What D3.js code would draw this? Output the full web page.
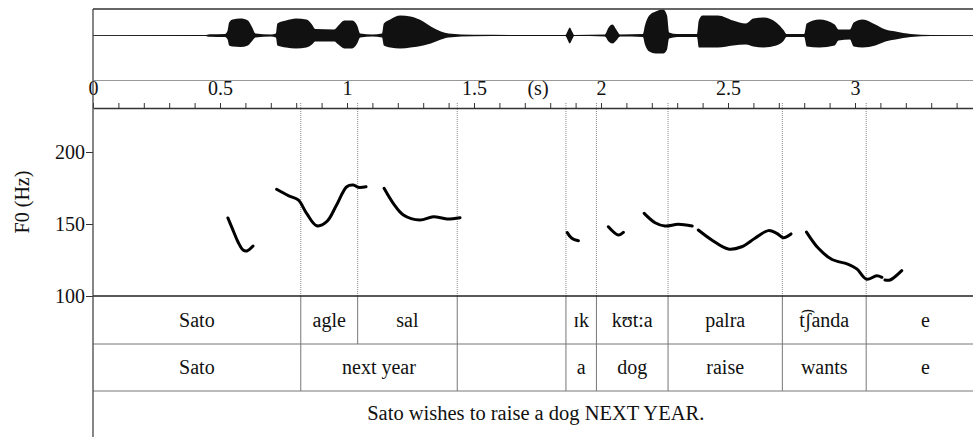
<!DOCTYPE html>
<html>
<head>
<meta charset="utf-8">
<script src="https://cdn.jsdelivr.net/npm/d3@7"></script>
<style>
  body { margin: 0; background: #fff; }
  svg { display: block; }
  svg text { font-family: "Liberation Serif", "DejaVu Serif", serif !important; }
</style>
</head>
<body>
<svg id="chart"></svg>
<script>
/* waveform envelope (time s, upper / lower amplitude) */
const waveTime  = [0, 0.44, 0.46, 0.52, 0.53, 0.536, 0.55, 0.58, 0.61, 0.625, 0.64, 0.70,
  0.72, 0.726, 0.76, 0.80, 0.84, 0.862, 0.875, 0.95, 0.966, 0.99, 1.02, 1.04, 1.052, 1.10,
  1.138, 1.145, 1.17, 1.21, 1.25, 1.30, 1.33, 1.37, 1.40, 1.50, 1.86, 1.868, 1.877, 1.886, 1.895,
  2.015, 2.03, 2.045, 2.06, 2.075, 2.165, 2.173, 2.19, 2.215, 2.245, 2.26, 2.268, 2.30,
  2.378, 2.385, 2.40, 2.46, 2.52, 2.57, 2.60, 2.64, 2.69, 2.72, 2.73, 2.80, 2.81, 2.86, 2.92,
  2.935, 2.98, 2.995, 3.03, 3.08, 3.12, 3.16, 3.22, 3.30, 3.51]
const waveUpper = [0.3, 0.4, 1.2, 1.5, 5, 13, 16, 17, 15, 9, 2, 1,
  2, 12, 15, 17, 16, 11, 6.5, 6, 10, 15, 15, 10, 2, 1,
  2, 12, 16, 20, 19, 14, 9, 4, 2, 0.8, 0.5, 4, 8, 4, 0.5,
  1, 8, 11, 6, 1, 1.5, 10, 20, 24, 26, 20, 3, 1.5,
  1.5, 15, 20, 20, 15, 12, 17, 18, 13, 5, 1.5, 1.5, 12, 16, 11,
  6, 6, 13, 16, 11, 6, 4, 1.5, 0.5, 0.3]
const waveLower = [0.3, 0.4, 1.2, 1.5, 4, 10, 11, 11.5, 10, 6, 2, 1,
  2, 10, 12, 13, 12, 9, 6, 6, 9, 13, 13, 8, 2, 1,
  2, 10, 12, 13, 12, 10, 8, 4, 2, 0.8, 0.5, 4, 8, 4, 0.5,
  1, 6, 8, 5, 1, 1.5, 9, 16, 18, 18, 14, 3, 1.5,
  1.5, 12, 12, 12, 10, 9, 11, 12, 10, 5, 1.5, 1.5, 11, 12, 10,
  5, 4, 11, 12, 10, 6, 4, 1.5, 0.5, 0.3]

/* pitch track (null = break) */
const f0Time = [0.531, 0.551, 0.571, 0.591, 0.606, 0.630, null,
  0.723, 0.769, 0.808, 0.841, 0.881, 0.920, 0.959, 0.999, 1.025, 1.044, 1.075, null,
  1.146, 1.182, 1.222, 1.287, 1.340, 1.393, 1.445, null,
  1.867, 1.885, 1.911, null,
  2.029, 2.068, 2.088, null,
  2.170, 2.213, 2.252, 2.304, 2.359, null,
  2.383, 2.436, 2.501, 2.554, 2.606, 2.659, 2.692, 2.718, 2.748, null,
  2.809, 2.856, 2.908, 2.974, 3.007, 3.046, 3.085, 3.106, null,
  3.118, 3.138, 3.184]
const f0Hz = [154.2, 145.8, 137.5, 131.9, 131.3, 134.7, null,
  174.1, 169.7, 166.7, 157.4, 148.8, 151.6, 163.2, 175.9, 177.1, 175.5, 175.9, null,
  174.8, 164.4, 156.3, 152.8, 155.1, 153.5, 154.4, null,
  144.0, 140.1, 138.4, null,
  148.1, 142.4, 144.2, null,
  157.4, 150.9, 148.6, 149.8, 148.6, null,
  145.8, 138.9, 132.6, 134.2, 140.1, 145.4, 143.5, 140.5, 143.1, null,
  144.4, 133.1, 125.5, 122.0, 118.8, 111.6, 114.0, 113.0, null,
  111.1, 111.1, 117.6]

/* text grid */
const tier1Bounds = [0.818, 1.042, 1.434, 1.862, 1.982, 2.264, 2.714, 3.044]
const tier1Labels = ['Sato', 'agle', 'sal', '', 'ɪk', 'kʊt:a', 'palra', 't͡ʃanda', 'e']
const tier2Bounds = [0.818, 1.434, 1.862, 1.982, 2.264, 2.714, 3.044]
const tier2Labels = ['Sato', 'next year', '', 'a', 'dog', 'raise', 'wants', 'e']
const translation = 'Sato wishes to raise a dog NEXT YEAR.'

const timeLabels = [0, 0.5, 1, 1.5, 2, 2.5, 3]
const f0Ticks = [100, 150, 200]
const tEnd = 3.51

const width = 973, height = 437
const left = 93
const wave = {top: 9, bottom: 80, mid: 35.5}
const pitch = {top: 108, bottom: 296}
const tiers = [296, 344, 391, 440]

const svg = d3.select('#chart').attr('width', width).attr('height', height)

const xScale = d3.scaleLinear().domain([0, tEnd]).range([left, left + tEnd * 254])
const yWave = d3.scaleLinear().domain([-27, 27]).range([wave.mid + 27, wave.mid - 27])
const yF0 = d3.scaleLinear().domain([100, 231.25]).range([pitch.bottom, 107])

/* waveform */
const waveData = waveTime.map((t, i) => ({t: t, up: waveUpper[i], lo: waveLower[i]}))
svg.append('line')
   .attr('x1', left).attr('x2', width)
   .attr('y1', yWave(0)).attr('y2', yWave(0))
   .attr('stroke', '#555').attr('stroke-width', 1)
svg.append('path')
   .datum(waveData)
   .attr('fill', '#111')
   .attr('d', d3.area()
       .x(d => xScale(d.t))
       .y0(d => yWave(-d.lo))
       .y1(d => yWave(d.up))
       .curve(d3.curveMonotoneX))

svg.append('line')
   .attr('x1', left).attr('x2', width)
   .attr('y1', wave.top).attr('y2', wave.top)
   .attr('stroke', '#333').attr('stroke-width', 1.5)

/* time labels under the waveform */
const timeAxis = svg.append('g')
   .attr('transform', 'translate(0,' + wave.bottom + ')')
   .call(d3.axisBottom(xScale).tickValues(timeLabels).tickSize(0).tickSizeOuter(0).tickPadding(1)
         .tickFormat(d3.format('')))
timeAxis.select('.domain').attr('stroke', '#999')
timeAxis.selectAll('text').attr('font-size', 20).attr('fill', '#111')
svg.append('text')
   .attr('x', xScale(1.752)).attr('y', 95)
   .attr('text-anchor', 'middle').attr('font-size', 20).attr('fill', '#111')
   .text('(s)')

/* minor ticks on top of the pitch panel */
const tickAxis = svg.append('g')
   .attr('transform', 'translate(0,' + pitch.top + ')')
   .call(d3.axisTop(xScale).tickValues(d3.range(0, 34.5).map(i => i / 10)).tickSize(5).tickSizeOuter(0)
         .tickFormat(''))
tickAxis.select('.domain').attr('stroke', '#333').attr('stroke-width', 1.5)
tickAxis.selectAll('line').attr('stroke', '#333')

/* boundaries through the pitch panel */
svg.selectAll('.bound')
   .data(tier1Bounds)
   .enter()
   .append('line')
   .attr('class', 'bound')
   .attr('x1', d => xScale(d)).attr('x2', d => xScale(d))
   .attr('y1', 103).attr('y2', pitch.bottom)
   .attr('stroke', '#888').attr('stroke-width', 1).attr('stroke-dasharray', '1,1')

/* F0 axis */
const f0Axis = svg.append('g')
   .attr('transform', 'translate(' + left + ',0)')
   .call(d3.axisLeft(yF0).tickValues(f0Ticks).tickSize(7).tickSizeOuter(0).tickPadding(1))
f0Axis.select('.domain').remove()
f0Axis.selectAll('line').attr('stroke', '#333')
f0Axis.selectAll('text').attr('font-size', 20).attr('fill', '#111')
svg.append('text')
   .attr('transform', 'translate(22,' + 202 + ') rotate(-90)')
   .attr('text-anchor', 'middle').attr('dominant-baseline', 'central')
   .attr('font-size', 20).attr('fill', '#111')
   .text('F0 (Hz)')

/* pitch track */
const f0Data = f0Time.map((t, i) => ({t: t, hz: f0Hz[i]}))
svg.append('path')
   .datum(f0Data)
   .attr('fill', 'none')
   .attr('stroke', '#000')
   .attr('stroke-width', 3)
   .attr('stroke-linecap', 'round')
   .attr('d', d3.line()
       .defined(d => d.hz !== null)
       .x(d => xScale(d.t))
       .y(d => yF0(d.hz))
       .curve(d3.curveCatmullRom))

/* text grid */
const drawTier = (bounds, labels, y0, y1) => {
  svg.selectAll(null)
     .data(bounds)
     .enter()
     .append('line')
     .attr('x1', d => xScale(d)).attr('x2', d => xScale(d))
     .attr('y1', y0).attr('y2', y1)
     .attr('stroke', '#777').attr('stroke-width', 1)
  const edges = [0].concat(bounds, [tEnd])
  svg.selectAll(null)
     .data(labels)
     .enter()
     .append('text')
     .attr('x', (d, i) => (xScale(edges[i]) + xScale(edges[i + 1])) / 2)
     .attr('y', (y0 + y1) / 2 + 6.5)
     .attr('text-anchor', 'middle')
     .attr('font-size', 20)
     .attr('fill', '#111')
     .text(d => d)
}
drawTier(tier1Bounds, tier1Labels, tiers[0], tiers[1])
drawTier(tier2Bounds, tier2Labels, tiers[1], tiers[2])

svg.append('text')
   .attr('x', (xScale(0) + xScale(tEnd)) / 2 - 3)
   .attr('y', 420)
   .attr('text-anchor', 'middle')
   .attr('font-size', 20.5)
   .attr('fill', '#111')
   .text(translation)

svg.selectAll('.hline')
   .data(tiers.slice(0, 3))
   .enter()
   .append('line')
   .attr('x1', left).attr('x2', width)
   .attr('y1', d => d).attr('y2', d => d)
   .attr('stroke', (d, i) => i === 0 ? '#222' : '#777')
   .attr('stroke-width', (d, i) => i === 0 ? 1.3 : 1)

/* left border */
svg.append('line')
   .attr('x1', left).attr('x2', left)
   .attr('y1', wave.top).attr('y2', height)
   .attr('stroke', '#444').attr('stroke-width', 1.3)
</script>
</body>
</html>
